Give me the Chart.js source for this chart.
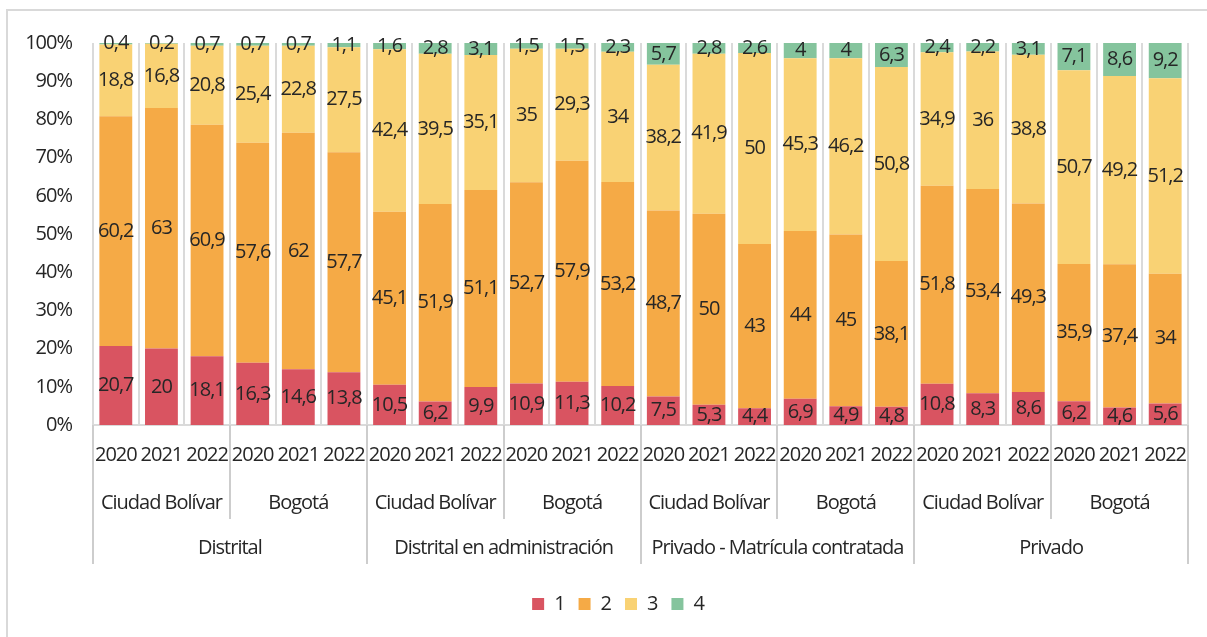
<!DOCTYPE html>
<html>
<head>
<meta charset="utf-8">
<script src="https://cdn.jsdelivr.net/npm/chart.js@4.4.1/dist/chart.umd.min.js"></script>
<style>
  html, body { margin: 0; padding: 0; background: #fff; }
  #wrap { width: 1207px; height: 637px; }
</style>
</head>
<body>
<div id="wrap"><canvas id="myChart" width="1207" height="637"></canvas></div>
<script>
const years = ['2020', '2021', '2022'];
const cities = ['Ciudad Bolívar', 'Bogotá'];
const groups = ['Distrital', 'Distrital en administración', 'Privado - Matrícula contratada', 'Privado'];
const seriesNames = ['1', '2', '3', '4'];
const seriesColors = ['#d95461', '#f5aa46', '#f9d274', '#85c49d'];

const serie1 = [20.7, 20, 18.1, 16.3, 14.6, 13.8, 10.5, 6.2, 9.9, 10.9, 11.3, 10.2, 7.5, 5.3, 4.4, 6.9, 4.9, 4.8, 10.8, 8.3, 8.6, 6.2, 4.6, 5.6];
const serie2 = [60.2, 63, 60.9, 57.6, 62, 57.7, 45.1, 51.9, 51.1, 52.7, 57.9, 53.2, 48.7, 50, 43, 44, 45, 38.1, 51.8, 53.4, 49.3, 35.9, 37.4, 34];
const serie3 = [18.8, 16.8, 20.8, 25.4, 22.8, 27.5, 42.4, 39.5, 35.1, 35, 29.3, 34, 38.2, 41.9, 50, 45.3, 46.2, 50.8, 34.9, 36, 38.8, 50.7, 49.2, 51.2];
const serie4 = [0.4, 0.2, 0.7, 0.7, 0.7, 1.1, 1.6, 2.8, 3.1, 1.5, 1.5, 2.3, 5.7, 2.8, 2.6, 4, 4, 6.3, 2.4, 2.2, 3.1, 7.1, 8.6, 9.2];

const allSeries = [serie1, serie2, serie3, serie4];

// one category per year, grouped by city and by sector
const categories = [];
groups.forEach(() => cities.forEach(() => years.forEach(y => categories.push(y))));

// 100% stacked: normalise each column, keep raw values for labels
const totals = categories.map((_, i) => allSeries.reduce((s, arr) => s + arr[i], 0));

const FONT = '"Open Sans", "Noto Sans", sans-serif';
const TEXT = '#262626';

const fmt = v => String(v).replace('.', ',');

const multiLevel = {
  id: 'multiLevel',
  afterLayout(chart) {
    // nudge legend to where it sits in the original
    const lg = chart.legend;
    if (lg) {
      lg.left += 26; lg.right += 26;
      lg.top += 2; lg.bottom += 2;
    }
  },
  beforeDraw(chart) {
    chart.ctx.letterSpacing = '-1px';
  },
  afterDatasetsDraw(chart) {
    const { ctx } = chart;
    ctx.save();
    ctx.font = '20px ' + FONT;
    ctx.fillStyle = TEXT;
    ctx.textAlign = 'center';
    ctx.textBaseline = 'middle';
    chart.data.datasets.forEach((ds, di) => {
      const meta = chart.getDatasetMeta(di);
      meta.data.forEach((el, i) => {
        ctx.fillText(fmt(ds.raw[i]), el.x, (el.y + el.base) / 2);
      });
    });
    ctx.restore();
  },
  afterDraw(chart) {
    const { ctx, chartArea } = chart;
    const x = chart.scales.x;
    const n = categories.length;
    const step = (chartArea.right - chartArea.left) / n;
    const edge = k => chartArea.left + k * step;
    const b = chartArea.bottom;

    ctx.save();
    // outer frame
    ctx.strokeStyle = '#d9d9d9';
    ctx.lineWidth = 2;
    ctx.beginPath();
    ctx.moveTo(7, 637);
    ctx.lineTo(7, 10);
    ctx.lineTo(1207, 10);
    ctx.stroke();

    // separators of the category levels
    ctx.strokeStyle = '#cdcdcd';
    for (let k = 0; k <= n; k += 3) {
      const end = k % 6 === 0 ? b + 139 : b + 94;
      ctx.beginPath();
      ctx.moveTo(Math.round(edge(k)), b);
      ctx.lineTo(Math.round(edge(k)), end);
      ctx.stroke();
    }

    ctx.font = '20px ' + FONT;
    ctx.fillStyle = TEXT;
    ctx.textAlign = 'center';
    ctx.textBaseline = 'middle';
    categories.forEach((c, i) => ctx.fillText(c, x.getPixelForValue(i), b + 30));
    for (let j = 0; j < n / 3; j++) {
      ctx.fillText(cities[j % cities.length], (edge(j * 3) + edge(j * 3 + 3)) / 2, b + 78);
    }
    for (let j = 0; j < n / 6; j++) {
      ctx.fillText(groups[j], (edge(j * 6) + edge(j * 6 + 6)) / 2, b + 123);
    }
    ctx.restore();
  }
};

new Chart(document.getElementById('myChart'), {
  type: 'bar',
  data: {
    labels: categories,
    datasets: allSeries.map((arr, s) => ({
      label: seriesNames[s],
      data: arr.map((v, i) => v / totals[i] * 100),
      raw: arr,
      backgroundColor: seriesColors[s],
      borderWidth: 0,
      categoryPercentage: 1,
      barPercentage: 0.72
    }))
  },
  options: {
    responsive: false,
    animation: false,
    devicePixelRatio: 1,
    layout: { padding: { top: 43, right: 19, left: 0, bottom: 15 } },
    scales: {
      x: {
        stacked: true,
        grid: { offset: true, color: '#dadada', lineWidth: 2, drawTicks: false },
        border: { color: '#dadada', width: 2 },
        ticks: { display: false },
        afterFit: s => { s.height = 153; }
      },
      y: {
        stacked: true,
        min: 0,
        max: 100,
        ticks: {
          stepSize: 10,
          callback: v => v + '%',
          font: { family: FONT, size: 20 },
          color: TEXT,
          padding: 21
        },
        grid: { display: false, drawTicks: false },
        border: { display: false },
        afterFit: s => { s.width = 93; }
      }
    },
    plugins: {
      legend: {
        position: 'bottom',
        labels: {
          boxWidth: 12,
          boxHeight: 12,
          padding: 14,
          color: TEXT,
          font: { family: FONT, size: 20 }
        }
      },
      tooltip: { enabled: false }
    }
  },
  plugins: [multiLevel]
});
</script>
</body>
</html>
